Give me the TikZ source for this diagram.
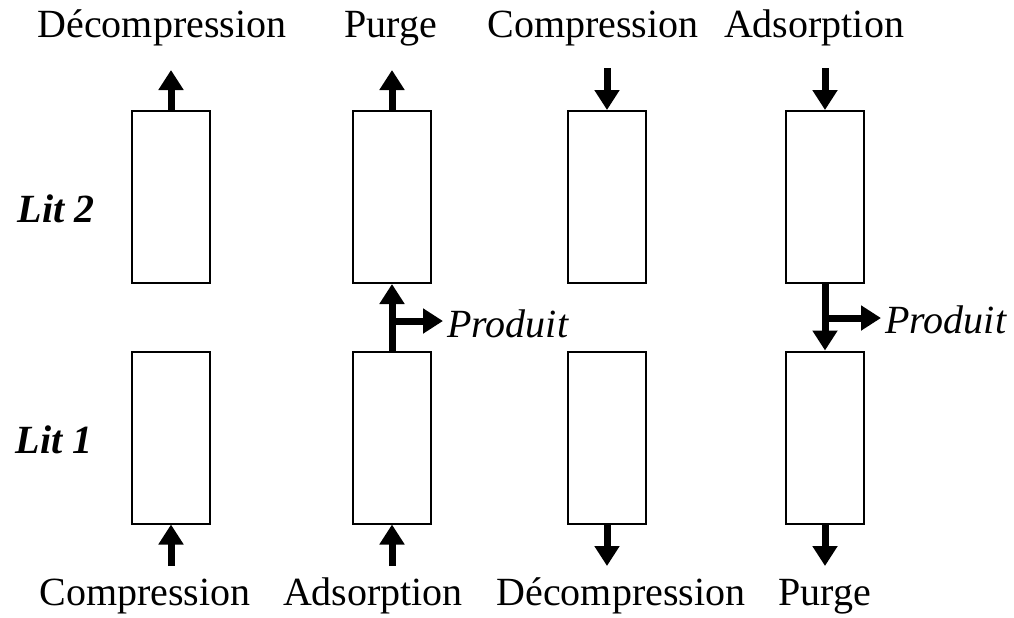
\documentclass[tikz,border=0pt]{standalone}
\usepackage{fontspec}
\setmainfont{Liberation Serif}
\usetikzlibrary{arrows.meta,positioning}

\begin{document}
\begin{tikzpicture}[line cap=butt,line join=miter,x=0.5pt,y=-0.5pt,
  >={Triangle[width=12pt,length=10pt]},
  lit/.style={draw,line width=1pt,minimum width=39pt,minimum height=86pt,inner sep=0pt},
  fleche/.style={->,line width=3.5pt},
  etiq/.style={anchor=base,inner sep=0pt,font=\fontsize{20}{24}\selectfont},
  nomlit/.style={etiq,font=\fontsize{20}{24}\selectfont\bfseries\itshape},
  produit/.style={anchor=west,inner sep=2pt,font=\fontsize{20}{24}\selectfont\itshape}]
\useasboundingbox (0,0) rectangle (1014,617);
% les lits
\foreach \c/\x in {1/171,2/392,3/607,4/825} {
  \node[lit] (h\c) at (\x,197) {};
  \node[lit] (b\c) at (\x,437.5) {};
}
\node[nomlit] (lit2) at (56,222) {Lit 2};
\node[nomlit] (lit1) at (54,453) {Lit 1};
% etapes en haut
\node[etiq] (e1) at (162,37) {Décompression};
\node[etiq] (e2) at (391,37) {Purge};
\node[etiq] (e3) at (593,37) {Compression};
\node[etiq] (e4) at (814,37) {Adsorption};
% etapes en bas
\node[etiq] (f1) at (145,605) {Compression};
\node[etiq] (f2) at (373,605) {Adsorption};
\node[etiq] (f3) at (621,605) {Décompression};
\node[etiq] (f4) at (825,605) {Purge};
% fleches en haut
\coordinate (t1) at (171,70);
\coordinate (t2) at (392,70);
\coordinate (t3) at (607,68);
\coordinate (t4) at (825,68);
\draw[fleche] (h1.north) -- (t1);
\draw[fleche] (h2.north) -- (t2);
\draw[fleche] (t3) -- (h3.north);
\draw[fleche] (t4) -- (h4.north);
% fleches en bas
\coordinate (u1) at (171,566);
\coordinate (u2) at (392,566);
\coordinate (u3) at (607,566);
\coordinate (u4) at (825,566);
\draw[fleche] (u1) -- (b1.south);
\draw[fleche] (u2) -- (b2.south);
\draw[fleche] (b3.south) -- (u3);
\draw[fleche] (b4.south) -- (u4);
% produit
\node[produit] (pr2) at (443,324) {Produit};
\node[produit] (pr4) at (881,320) {Produit};
\coordinate (p2) at (392,321);
\coordinate (p4) at (825,318);
\draw[fleche] (b2.north) -- (h2.south);
\draw[fleche] (p2) -- (p2 -| pr2.west);
\draw[fleche] (h4.south) -- (b4.north);
\draw[fleche] (p4) -- (p4 -| pr4.west);
\end{tikzpicture}
\end{document}
